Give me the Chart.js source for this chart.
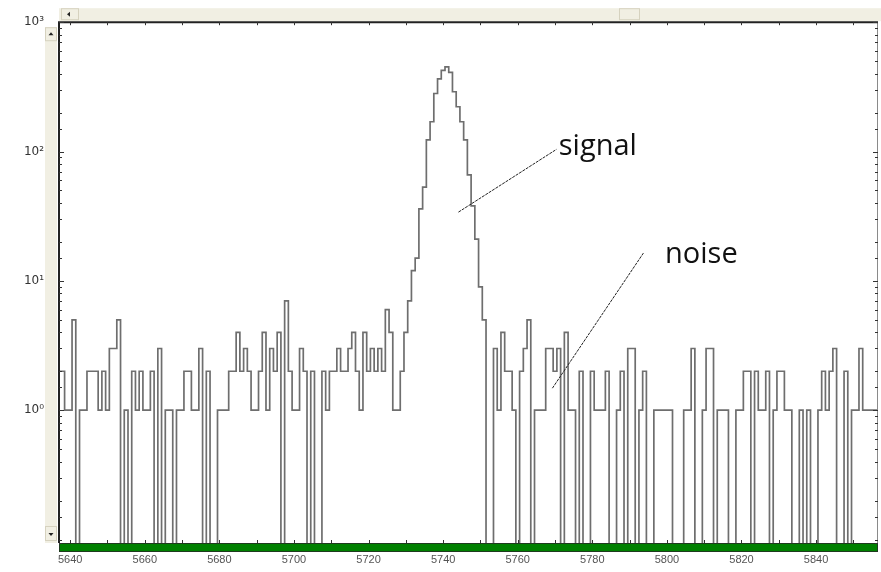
<!DOCTYPE html>
<html>
<head>
<meta charset="utf-8">
<script src="https://cdn.jsdelivr.net/npm/chart.js@4.4.1/dist/chart.umd.min.js"></script>
<style>
  html, body { margin: 0; padding: 0; background: #fff; }
</style>
</head>
<body>
<canvas id="canvas" width="881" height="572"></canvas>
<script>
// one count per channel, starting at firstChannel
const firstChannel = 5637;

// channels 5637 - 5728
const countsLeft = [
    2, 2, 1, 1, 5, 0, 1, 1, 2, 2,
    2, 1, 2, 1, 3, 3, 5, 0, 1, 0,
    2, 1, 2, 1, 1, 2, 0, 3, 0, 1,
    1, 0, 1, 1, 2, 2, 1, 1, 3, 0,
    2, 0, 0, 1, 1, 1, 2, 2, 4, 2,
    3, 2, 1, 1, 2, 4, 1, 3, 2, 4,
    0, 7, 2, 1, 1, 3, 2, 0, 2, 0,
    0, 2, 1, 2, 2, 3, 2, 2, 3, 4,
    2, 1, 4, 2, 3, 2, 3, 2, 6, 4,
    1, 1
];

// channels 5729 - 5751 (the peak)
const countsPeak = [
    2, 4, 7, 12, 15, 36, 53, 123, 170, 281, 364, 424,
    451, 410, 290, 222, 170, 123, 66, 38, 21, 9, 5
];

// channels 5752 - 5856
const countsRight = [
    0, 0, 3, 1, 4, 2, 2, 1, 0, 2,
    3, 5, 0, 1, 1, 1, 3, 3, 2, 3,
    0, 4, 1, 1, 0, 2, 0, 0, 2, 1,
    1, 1, 2, 0, 0, 1, 2, 0, 3, 3,
    0, 1, 2, 0, 0, 1, 1, 1, 1, 1,
    0, 0, 0, 1, 1, 3, 0, 0, 1, 3,
    3, 0, 1, 1, 1, 0, 0, 1, 1, 2,
    2, 0, 2, 1, 1, 2, 0, 1, 2, 2,
    1, 1, 0, 0, 1, 0, 1, 0, 0, 1,
    2, 1, 2, 3, 0, 0, 2, 0, 1, 1,
    3, 1, 1, 1, 1
];

const xTickLabels = [5640, 5660, 5680, 5700, 5720, 5740, 5760, 5780, 5800, 5820, 5840];
const yTickValues = [1, 10, 100, 1000];
const yTickLabels = ['10\u2070', '10\u00b9', '10\u00b2', '10\u00b3'];

// text notes with their leader lines, in data units
const notes = [
    { text: 'signal', at: [5771, 109], from: [5744.1, 34], to: [5770.4, 104] },
    { text: 'noise', at: [5799.5, 15.8], from: [5769.3, 1.48], to: [5793.7, 16.4] }
];

const counts = countsLeft.concat(countsPeak, countsRight);
// zero counts go below the axis and get clipped
const points = counts.map((c, i) => ({ x: firstChannel + i - 0.5, y: c > 0 ? c : 0.01 }));
points.push({ x: firstChannel + counts.length - 0.5, y: points[points.length - 1].y });

const chrome = {
    id: 'chrome',
    beforeDraw(chart) {
        const { ctx, chartArea: a } = chart;
        ctx.save();
        ctx.fillStyle = '#fff';
        ctx.fillRect(0, 0, chart.width, chart.height);

        // scroll bars
        ctx.fillStyle = '#f1efe3';
        ctx.strokeStyle = '#d6d2bf';
        ctx.lineWidth = 1;
        ctx.fillRect(a.left, a.top - 14, a.right - a.left + 3, 13);
        ctx.fillRect(a.left - 14, a.top + 5, 12, a.bottom - a.top - 5);
        ctx.strokeRect(a.left + 2.5, a.top - 13.5, 17, 11);
        ctx.strokeRect(a.left + 560.5, a.top - 13.5, 20, 11);
        ctx.strokeRect(a.left - 13.5, a.top + 5.5, 11, 13);
        ctx.strokeRect(a.left - 13.5, a.bottom - 16.5, 11, 14);
        ctx.fillStyle = '#222';
        ctx.beginPath();
        ctx.moveTo(a.left + 8, a.top - 8); ctx.lineTo(a.left + 11, a.top - 10.5); ctx.lineTo(a.left + 11, a.top - 5.5);
        ctx.fill();
        ctx.beginPath();
        ctx.moveTo(a.left - 8, a.top + 10); ctx.lineTo(a.left - 10.5, a.top + 13); ctx.lineTo(a.left - 5.5, a.top + 13);
        ctx.fill();
        ctx.beginPath();
        ctx.moveTo(a.left - 8, a.bottom - 7); ctx.lineTo(a.left - 10.5, a.bottom - 10); ctx.lineTo(a.left - 5.5, a.bottom - 10);
        ctx.fill();
        ctx.restore();
    },
    afterDatasetsDraw(chart) {
        const { ctx, chartArea: a } = chart;
        const xs = chart.scales.x, ys = chart.scales.y;
        ctx.save();

        // green strip under the plot
        ctx.fillStyle = '#008000';
        ctx.fillRect(a.left, a.bottom, a.right - a.left, 9);
        ctx.strokeStyle = '#1f3a1f';
        ctx.lineWidth = 1;
        ctx.strokeRect(a.left + 0.5, a.bottom + 0.5, a.right - a.left - 1, 8);

        // frame
        ctx.strokeStyle = '#8a8a8a';
        ctx.beginPath();
        ctx.moveTo(a.right - 0.5, a.top); ctx.lineTo(a.right - 0.5, a.bottom);
        ctx.stroke();
        ctx.strokeStyle = '#222';
        ctx.lineWidth = 2;
        ctx.beginPath();
        ctx.moveTo(a.left, a.bottom); ctx.lineTo(a.left, a.top); ctx.lineTo(a.right, a.top);
        ctx.stroke();

        // inner tick marks
        ctx.lineWidth = 1;
        ctx.strokeStyle = '#333';
        ctx.beginPath();
        xs.ticks.forEach(t => {
            const px = Math.round(xs.getPixelForValue(t.value)) + 0.5;
            ctx.moveTo(px, a.bottom); ctx.lineTo(px, a.bottom - 3);
            ctx.moveTo(px, a.top); ctx.lineTo(px, a.top + 3);
        });
        ys.ticks.forEach(t => {
            if (t.value < ys.min || t.value > ys.max) return;
            const py = Math.round(ys.getPixelForValue(t.value)) + 0.5;
            const len = yTickValues.includes(t.value) ? 5 : 3;
            ctx.moveTo(a.left, py); ctx.lineTo(a.left + len, py);
            ctx.moveTo(a.right, py); ctx.lineTo(a.right - len, py);
        });
        ctx.stroke();

        // notes
        notes.forEach(n => {
            ctx.strokeStyle = '#222';
            ctx.setLineDash([3, 1]);
            ctx.beginPath();
            ctx.moveTo(xs.getPixelForValue(n.from[0]), ys.getPixelForValue(n.from[1]));
            ctx.lineTo(xs.getPixelForValue(n.to[0]), ys.getPixelForValue(n.to[1]));
            ctx.stroke();
            ctx.setLineDash([]);
            ctx.fillStyle = '#111';
            ctx.font = '29px "Open Sans"';
            ctx.textBaseline = 'middle';
            ctx.fillText(n.text, xs.getPixelForValue(n.at[0]), ys.getPixelForValue(n.at[1]));
        });
        ctx.restore();
    }
};

const grafico = new Chart(document.getElementById('canvas').getContext('2d'), {
    type: 'line',
    data: {
        datasets: [{
            data: points,
            stepped: true,
            borderColor: '#6e6e6e',
            borderWidth: 1.7,
            pointRadius: 0,
            fill: false
        }]
    },
    options: {
        responsive: false,
        animation: false,
        events: [],
        layout: {
            padding: { top: 22, right: 3, left: 0, bottom: 0 }
        },
        plugins: {
            legend: { display: false },
            tooltip: { enabled: false }
        },
        scales: {
            x: {
                type: 'linear',
                min: 5637,
                max: 5856.6,
                grid: { display: false, drawTicks: false },
                border: { display: false },
                ticks: {
                    stepSize: 10,
                    includeBounds: false,
                    autoSkip: false,
                    maxRotation: 0,
                    padding: 10,
                    color: '#555',
                    font: { family: 'Liberation Sans', size: 11 },
                    callback: v => xTickLabels.includes(v) ? String(v) : ''
                },
                afterFit: s => { s.height = 29; }
            },
            y: {
                type: 'logarithmic',
                min: 0.094,
                max: 1000,
                grid: { display: false, drawTicks: false },
                border: { display: false },
                ticks: {
                    autoSkip: false,
                    padding: 15,
                    color: '#333',
                    font: { family: 'DejaVu Sans', size: 12 },
                    callback: v => {
                        const i = yTickValues.findIndex(t => Math.abs(v - t) < t * 1e-6);
                        return i >= 0 ? yTickLabels[i] : '';
                    }
                },
                afterFit: s => { s.width = 59; }
            }
        }
    },
    plugins: [chrome]
});
</script>
</body>
</html>
